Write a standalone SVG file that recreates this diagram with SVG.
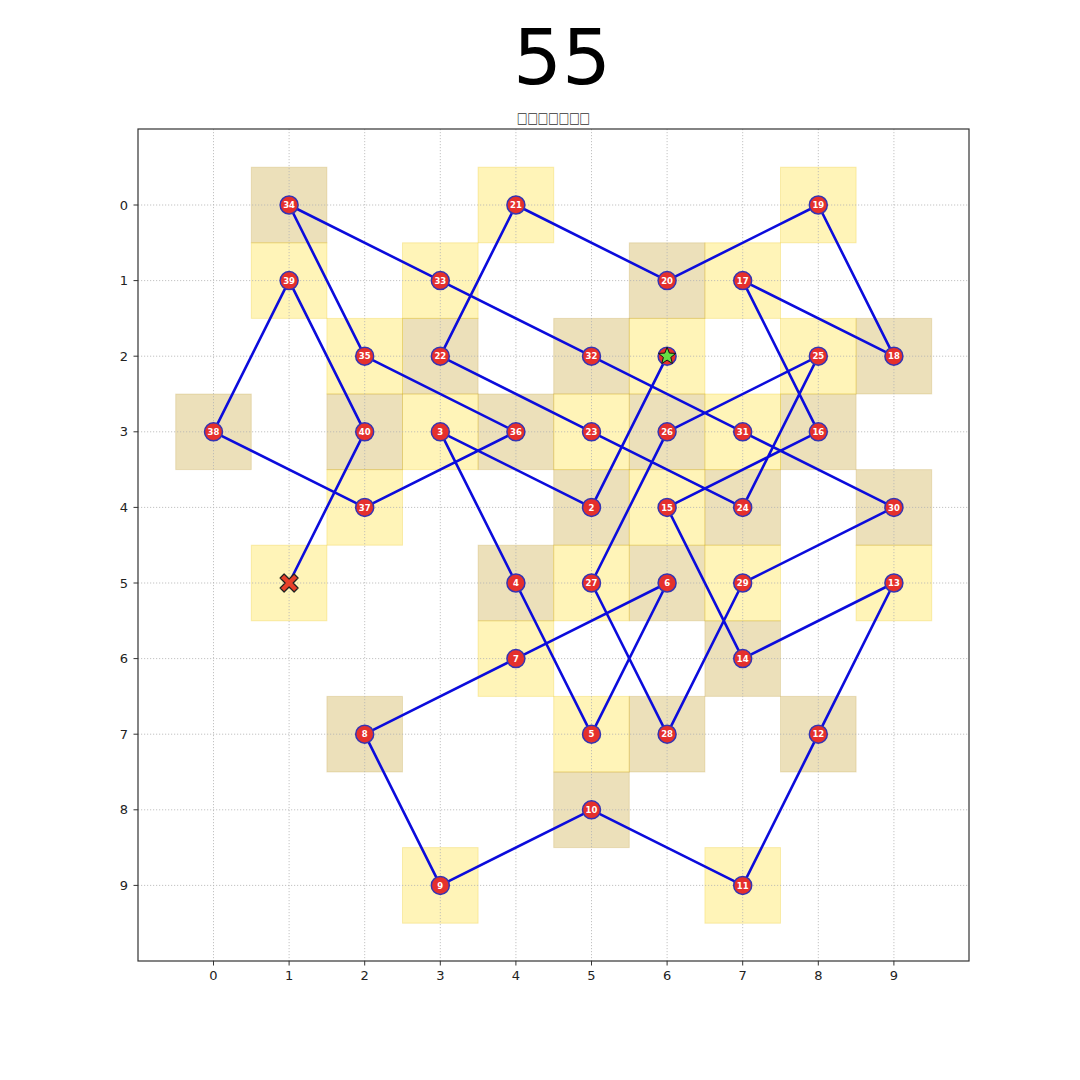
<svg xmlns="http://www.w3.org/2000/svg" width="1080" height="1080" viewBox="0 0 1080 1080">
<style>
.y{fill:#FFD700;fill-opacity:0.28;stroke:#E8C000;stroke-opacity:0.25;stroke-width:1}
.t{fill:#C0981C;fill-opacity:0.3;stroke:#B08810;stroke-opacity:0.2;stroke-width:1}
.g{stroke:#b4b4b4;stroke-width:0.8;stroke-dasharray:1.2 1.8;fill:none}
.tk{stroke:#333;stroke-width:1}
.tl{font-family:"DejaVu Sans",sans-serif;font-size:13px;fill:#222}
.n circle{fill:#E5302C;stroke:#3434B4;stroke-width:1.5}
.n text{font-family:"DejaVu Sans",sans-serif;font-size:8.5px;font-weight:bold;fill:#fff;text-anchor:middle}
</style>
<rect width="1080" height="1080" fill="#fff"/>
<text x="562" y="84" font-family="DejaVu Sans, sans-serif" font-size="77" text-anchor="middle" fill="#000">55</text>
<text x="553.5" y="123" font-family="DejaVu Sans, sans-serif" font-size="15" text-anchor="middle" fill="#333" textLength="73" lengthAdjust="spacingAndGlyphs">□□□□□□□</text>
<g id="cells">
<rect class="y" x="629.3" y="318.4" width="75.6" height="75.6"/>
<rect class="t" x="553.7" y="469.6" width="75.6" height="75.6"/>
<rect class="y" x="402.5" y="394" width="75.6" height="75.6"/>
<rect class="t" x="478.1" y="545.2" width="75.6" height="75.6"/>
<rect class="y" x="553.7" y="696.4" width="75.6" height="75.6"/>
<rect class="t" x="629.3" y="545.2" width="75.6" height="75.6"/>
<rect class="y" x="478.1" y="620.8" width="75.6" height="75.6"/>
<rect class="t" x="326.9" y="696.4" width="75.6" height="75.6"/>
<rect class="y" x="402.5" y="847.6" width="75.6" height="75.6"/>
<rect class="t" x="553.7" y="772" width="75.6" height="75.6"/>
<rect class="y" x="704.9" y="847.6" width="75.6" height="75.6"/>
<rect class="t" x="780.5" y="696.4" width="75.6" height="75.6"/>
<rect class="y" x="856.1" y="545.2" width="75.6" height="75.6"/>
<rect class="t" x="704.9" y="620.8" width="75.6" height="75.6"/>
<rect class="y" x="629.3" y="469.6" width="75.6" height="75.6"/>
<rect class="t" x="780.5" y="394" width="75.6" height="75.6"/>
<rect class="y" x="704.9" y="242.8" width="75.6" height="75.6"/>
<rect class="t" x="856.1" y="318.4" width="75.6" height="75.6"/>
<rect class="y" x="780.5" y="167.2" width="75.6" height="75.6"/>
<rect class="t" x="629.3" y="242.8" width="75.6" height="75.6"/>
<rect class="y" x="478.1" y="167.2" width="75.6" height="75.6"/>
<rect class="t" x="402.5" y="318.4" width="75.6" height="75.6"/>
<rect class="y" x="553.7" y="394" width="75.6" height="75.6"/>
<rect class="t" x="704.9" y="469.6" width="75.6" height="75.6"/>
<rect class="y" x="780.5" y="318.4" width="75.6" height="75.6"/>
<rect class="t" x="629.3" y="394" width="75.6" height="75.6"/>
<rect class="y" x="553.7" y="545.2" width="75.6" height="75.6"/>
<rect class="t" x="629.3" y="696.4" width="75.6" height="75.6"/>
<rect class="y" x="704.9" y="545.2" width="75.6" height="75.6"/>
<rect class="t" x="856.1" y="469.6" width="75.6" height="75.6"/>
<rect class="y" x="704.9" y="394" width="75.6" height="75.6"/>
<rect class="t" x="553.7" y="318.4" width="75.6" height="75.6"/>
<rect class="y" x="402.5" y="242.8" width="75.6" height="75.6"/>
<rect class="t" x="251.3" y="167.2" width="75.6" height="75.6"/>
<rect class="y" x="326.9" y="318.4" width="75.6" height="75.6"/>
<rect class="t" x="478.1" y="394" width="75.6" height="75.6"/>
<rect class="y" x="326.9" y="469.6" width="75.6" height="75.6"/>
<rect class="t" x="175.7" y="394" width="75.6" height="75.6"/>
<rect class="y" x="251.3" y="242.8" width="75.6" height="75.6"/>
<rect class="t" x="326.9" y="394" width="75.6" height="75.6"/>
<rect class="y" x="251.3" y="545.2" width="75.6" height="75.6"/>
</g>
<g id="grid" class="g">
<line x1="213.5" y1="129" x2="213.5" y2="961"/><line x1="289.1" y1="129" x2="289.1" y2="961"/><line x1="364.7" y1="129" x2="364.7" y2="961"/><line x1="440.3" y1="129" x2="440.3" y2="961"/><line x1="515.9" y1="129" x2="515.9" y2="961"/><line x1="591.5" y1="129" x2="591.5" y2="961"/><line x1="667.1" y1="129" x2="667.1" y2="961"/><line x1="742.7" y1="129" x2="742.7" y2="961"/><line x1="818.3" y1="129" x2="818.3" y2="961"/><line x1="893.9" y1="129" x2="893.9" y2="961"/>
<line x1="138" y1="205" x2="969" y2="205"/><line x1="138" y1="280.6" x2="969" y2="280.6"/><line x1="138" y1="356.2" x2="969" y2="356.2"/><line x1="138" y1="431.8" x2="969" y2="431.8"/><line x1="138" y1="507.4" x2="969" y2="507.4"/><line x1="138" y1="583" x2="969" y2="583"/><line x1="138" y1="658.6" x2="969" y2="658.6"/><line x1="138" y1="734.2" x2="969" y2="734.2"/><line x1="138" y1="809.8" x2="969" y2="809.8"/><line x1="138" y1="885.4" x2="969" y2="885.4"/>
</g>
<g id="axes">
<rect x="138" y="129" width="831" height="832" fill="none" stroke="#333" stroke-width="1.2"/>
<g class="tk">
<line x1="133.5" y1="205" x2="138" y2="205"/><line x1="133.5" y1="280.6" x2="138" y2="280.6"/><line x1="133.5" y1="356.2" x2="138" y2="356.2"/><line x1="133.5" y1="431.8" x2="138" y2="431.8"/><line x1="133.5" y1="507.4" x2="138" y2="507.4"/><line x1="133.5" y1="583" x2="138" y2="583"/><line x1="133.5" y1="658.6" x2="138" y2="658.6"/><line x1="133.5" y1="734.2" x2="138" y2="734.2"/><line x1="133.5" y1="809.8" x2="138" y2="809.8"/><line x1="133.5" y1="885.4" x2="138" y2="885.4"/>
<line x1="213.5" y1="961" x2="213.5" y2="965.5"/><line x1="289.1" y1="961" x2="289.1" y2="965.5"/><line x1="364.7" y1="961" x2="364.7" y2="965.5"/><line x1="440.3" y1="961" x2="440.3" y2="965.5"/><line x1="515.9" y1="961" x2="515.9" y2="965.5"/><line x1="591.5" y1="961" x2="591.5" y2="965.5"/><line x1="667.1" y1="961" x2="667.1" y2="965.5"/><line x1="742.7" y1="961" x2="742.7" y2="965.5"/><line x1="818.3" y1="961" x2="818.3" y2="965.5"/><line x1="893.9" y1="961" x2="893.9" y2="965.5"/>
</g>
<g class="tl" text-anchor="end">
<text x="128" y="209.5">0</text><text x="128" y="285.1">1</text><text x="128" y="360.7">2</text><text x="128" y="436.3">3</text><text x="128" y="511.9">4</text><text x="128" y="587.5">5</text><text x="128" y="663.1">6</text><text x="128" y="738.7">7</text><text x="128" y="814.3">8</text><text x="128" y="889.9">9</text>
</g>
<g class="tl" text-anchor="middle">
<text x="213.5" y="980">0</text><text x="289.1" y="980">1</text><text x="364.7" y="980">2</text><text x="440.3" y="980">3</text><text x="515.9" y="980">4</text><text x="591.5" y="980">5</text><text x="667.1" y="980">6</text><text x="742.7" y="980">7</text><text x="818.3" y="980">8</text><text x="893.9" y="980">9</text>
</g>
</g>
<g id="connectors">
<polyline fill="none" stroke="#0C0CDC" stroke-width="2.6" stroke-linejoin="round" stroke-linecap="round" points="667.1,356.2 591.5,507.4 440.3,431.8 515.9,583 591.5,734.2 667.1,583 515.9,658.6 364.7,734.2 440.3,885.4 591.5,809.8 742.7,885.4 818.3,734.2 893.9,583 742.7,658.6 667.1,507.4 818.3,431.8 742.7,280.6 893.9,356.2 818.3,205 667.1,280.6 515.9,205 440.3,356.2 591.5,431.8 742.7,507.4 818.3,356.2 667.1,431.8 591.5,583 667.1,734.2 742.7,583 893.9,507.4 742.7,431.8 591.5,356.2 440.3,280.6 289.1,205 364.7,356.2 515.9,431.8 364.7,507.4 213.5,431.8 289.1,280.6 364.7,431.8 289.1,583"/>
</g>
<g id="nodes" class="n">
<g id="n1"><circle cx="667.1" cy="356.2" r="9"/><polygon points="667.1,347.2 669.4,353.1 675.7,353.4 670.8,357.4 672.4,363.5 667.1,360.1 661.8,363.5 663.4,357.4 658.5,353.4 664.8,353.1" fill="#66DD44" stroke="#111" stroke-width="1"/></g>
<g id="n2"><circle cx="591.5" cy="507.4" r="9"/><text x="591.5" y="510.5">2</text></g>
<g id="n3"><circle cx="440.3" cy="431.8" r="9"/><text x="440.3" y="434.9">3</text></g>
<g id="n4"><circle cx="515.9" cy="583" r="9"/><text x="515.9" y="586.1">4</text></g>
<g id="n5"><circle cx="591.5" cy="734.2" r="9"/><text x="591.5" y="737.3">5</text></g>
<g id="n6"><circle cx="667.1" cy="583" r="9"/><text x="667.1" y="586.1">6</text></g>
<g id="n7"><circle cx="515.9" cy="658.6" r="9"/><text x="515.9" y="661.7">7</text></g>
<g id="n8"><circle cx="364.7" cy="734.2" r="9"/><text x="364.7" y="737.3">8</text></g>
<g id="n9"><circle cx="440.3" cy="885.4" r="9"/><text x="440.3" y="888.5">9</text></g>
<g id="n10"><circle cx="591.5" cy="809.8" r="9"/><text x="591.5" y="812.9">10</text></g>
<g id="n11"><circle cx="742.7" cy="885.4" r="9"/><text x="742.7" y="888.5">11</text></g>
<g id="n12"><circle cx="818.3" cy="734.2" r="9"/><text x="818.3" y="737.3">12</text></g>
<g id="n13"><circle cx="893.9" cy="583" r="9"/><text x="893.9" y="586.1">13</text></g>
<g id="n14"><circle cx="742.7" cy="658.6" r="9"/><text x="742.7" y="661.7">14</text></g>
<g id="n15"><circle cx="667.1" cy="507.4" r="9"/><text x="667.1" y="510.5">15</text></g>
<g id="n16"><circle cx="818.3" cy="431.8" r="9"/><text x="818.3" y="434.9">16</text></g>
<g id="n17"><circle cx="742.7" cy="280.6" r="9"/><text x="742.7" y="283.7">17</text></g>
<g id="n18"><circle cx="893.9" cy="356.2" r="9"/><text x="893.9" y="359.3">18</text></g>
<g id="n19"><circle cx="818.3" cy="205" r="9"/><text x="818.3" y="208.1">19</text></g>
<g id="n20"><circle cx="667.1" cy="280.6" r="9"/><text x="667.1" y="283.7">20</text></g>
<g id="n21"><circle cx="515.9" cy="205" r="9"/><text x="515.9" y="208.1">21</text></g>
<g id="n22"><circle cx="440.3" cy="356.2" r="9"/><text x="440.3" y="359.3">22</text></g>
<g id="n23"><circle cx="591.5" cy="431.8" r="9"/><text x="591.5" y="434.9">23</text></g>
<g id="n24"><circle cx="742.7" cy="507.4" r="9"/><text x="742.7" y="510.5">24</text></g>
<g id="n25"><circle cx="818.3" cy="356.2" r="9"/><text x="818.3" y="359.3">25</text></g>
<g id="n26"><circle cx="667.1" cy="431.8" r="9"/><text x="667.1" y="434.9">26</text></g>
<g id="n27"><circle cx="591.5" cy="583" r="9"/><text x="591.5" y="586.1">27</text></g>
<g id="n28"><circle cx="667.1" cy="734.2" r="9"/><text x="667.1" y="737.3">28</text></g>
<g id="n29"><circle cx="742.7" cy="583" r="9"/><text x="742.7" y="586.1">29</text></g>
<g id="n30"><circle cx="893.9" cy="507.4" r="9"/><text x="893.9" y="510.5">30</text></g>
<g id="n31"><circle cx="742.7" cy="431.8" r="9"/><text x="742.7" y="434.9">31</text></g>
<g id="n32"><circle cx="591.5" cy="356.2" r="9"/><text x="591.5" y="359.3">32</text></g>
<g id="n33"><circle cx="440.3" cy="280.6" r="9"/><text x="440.3" y="283.7">33</text></g>
<g id="n34"><circle cx="289.1" cy="205" r="9"/><text x="289.1" y="208.1">34</text></g>
<g id="n35"><circle cx="364.7" cy="356.2" r="9"/><text x="364.7" y="359.3">35</text></g>
<g id="n36"><circle cx="515.9" cy="431.8" r="9"/><text x="515.9" y="434.9">36</text></g>
<g id="n37"><circle cx="364.7" cy="507.4" r="9"/><text x="364.7" y="510.5">37</text></g>
<g id="n38"><circle cx="213.5" cy="431.8" r="9"/><text x="213.5" y="434.9">38</text></g>
<g id="n39"><circle cx="289.1" cy="280.6" r="9"/><text x="289.1" y="283.7">39</text></g>
<g id="n40"><circle cx="364.7" cy="431.8" r="9"/><text x="364.7" y="434.9">40</text></g>
<g id="end"><polygon transform="translate(289.1,583)" points="0,-4 5,-9 9,-5 4,0 9,5 5,9 0,4 -5,9 -9,5 -4,0 -9,-5 -5,-9" fill="#E8402A" stroke="#222" stroke-width="1.2" stroke-linejoin="round"/></g>
</g>
</svg>
